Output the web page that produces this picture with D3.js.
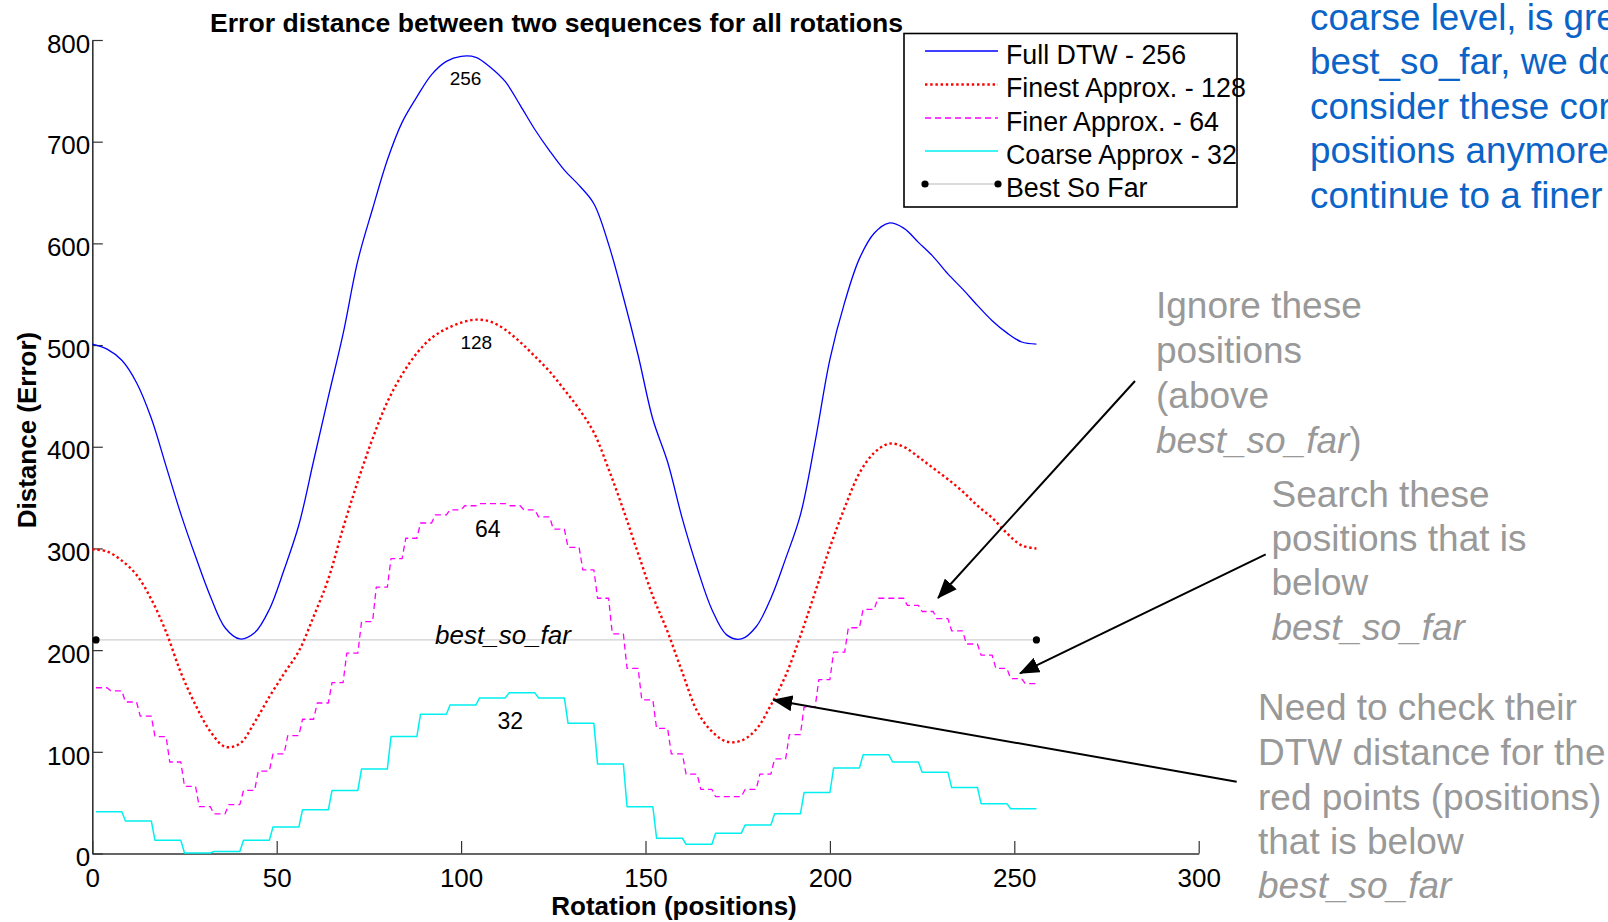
<!DOCTYPE html>
<html>
<head>
<meta charset="utf-8">
<script src="https://cdn.jsdelivr.net/npm/d3@7"></script>
<style>
  html, body { margin: 0; padding: 0; background: #ffffff; overflow: hidden; }
  svg { display: block; font-family: "Liberation Sans", Arial, Helvetica, sans-serif; }
</style>
</head>
<body>
<svg id="chart" width="1608" height="922"></svg>
<script>
// ---- data -------------------------------------------------------------
// rotation positions at which the smooth curves were sampled
const samplePositions = d3.range(0, 257, 4);

// full DTW distance for every 4th rotation
const fullDTW = [501, 496, 485, 463, 428, 381, 334, 292, 253, 222, 211, 217, 240, 279, 323, 386,
                 449, 511, 583, 634, 682, 719, 744, 766, 779, 784, 783, 773, 759, 736, 712, 691,
                 672, 657, 639, 599, 547, 490, 427, 385, 329, 281, 240, 215, 211, 223, 251, 290,
                 333, 405, 486, 542, 585, 610, 620, 615, 601, 587, 570, 555, 539, 524, 512, 503, 501];

// finest approximation (128 segments)
const finestApprox = [299, 297, 288, 274, 250, 218, 178, 146, 120, 105, 108, 129, 154, 177, 199, 233,
                      270, 320, 366, 408, 444, 471, 492, 507, 516, 522, 525, 523, 515, 503, 489, 474,
                      456, 437, 414, 378, 338, 295, 253, 218, 178, 140, 120, 110, 111, 122, 146, 175,
                      214, 257, 301, 340, 374, 394, 403, 400, 390, 379, 368, 356, 342, 330, 315, 303, 300];

// finer approximation: one level per block of 4 rotations (64 blocks)
const finerLevels = [163, 160, 149, 135, 115, 90, 66, 46, 39, 48, 62, 81, 98, 116, 132, 148,
                     168, 197, 228, 262, 290, 310, 325, 333, 338, 342, 344, 344, 342, 338, 331, 319,
                     301, 279, 251, 216, 182, 151, 123, 98, 78, 63, 56, 56, 63, 78, 93, 117,
                     144, 171, 198, 222, 240, 251, 251, 244, 238, 231, 219, 206, 195, 182, 172, 167];

// coarse approximation: one level per block of 8 rotations (32 blocks)
const coarseLevels = [41, 32, 13, 0.5, 2, 13, 26, 43, 62, 83, 115, 137, 146, 153, 158, 153,
                      128, 88, 46, 15, 9, 20, 28, 39, 60, 84, 97, 90, 80, 65, 49, 44];

const rotationCount = 256;
const bestSoFar = 210;
const bestSoFarEnds = [1, 256];

const xTicks = [0, 50, 100, 150, 200, 250, 300];
const yTicks = [0, 100, 200, 300, 400, 500, 600, 700, 800];

const legendLabels = ["Full DTW - 256", "Finest Approx. - 128", "Finer Approx. - 64",
                      "Coarse Approx - 32", "Best So Far"];

const titleText = "Error distance between two sequences for all rotations";
const xLabelText = "Rotation (positions)";
const yLabelText = "Distance (Error)";

// ---- layout -----------------------------------------------------------
const W = 1608, H = 922;
const plot = { left: 92.3, right: 1198.7, top: 40, bottom: 853.5 };
const axisColor = "#333333";

const svg = d3.select("#chart");

const x = d3.scaleLinear().domain([0, 300]).range([plot.left, plot.right]);
const y = d3.scaleLinear().domain([0, 800]).range([plot.bottom, plot.top]);

// ---- axes -------------------------------------------------------------
const yAxis = d3.axisLeft(y).tickValues(yTicks).tickSizeInner(-10.5).tickSizeOuter(0).tickPadding(2);
const xAxis = d3.axisBottom(x).tickValues(xTicks).tickSizeInner(-12.5).tickSizeOuter(0).tickPadding(15);

const gy = svg.append("g").attr("transform", `translate(${plot.left},0)`).call(yAxis);
const gx = svg.append("g").attr("transform", `translate(0,${plot.bottom})`).call(xAxis);

[gx, gy].forEach(g => {
  g.select(".domain").attr("stroke", axisColor).attr("stroke-width", 1.6);
  g.selectAll(".tick line").attr("stroke", axisColor).attr("stroke-width", 1.2);
  g.selectAll(".tick text").attr("fill", "#000").attr("font-size", 26)
    .attr("font-family", "'Liberation Sans', Arial, sans-serif");
});
gy.selectAll(".tick text").attr("dy", "0.47em");
gx.selectAll(".tick text").attr("dy", "0.71em");

// ---- best so far threshold -------------------------------------------
svg.append("line")
  .attr("x1", x(bestSoFarEnds[0])).attr("x2", x(bestSoFarEnds[1]))
  .attr("y1", y(bestSoFar)).attr("y2", y(bestSoFar))
  .attr("stroke", "#cfcfcf").attr("stroke-width", 1.3);
svg.selectAll("circle.bsf").data(bestSoFarEnds).enter().append("circle")
  .attr("class", "bsf")
  .attr("cx", d => x(d)).attr("cy", y(bestSoFar)).attr("r", 3.6).attr("fill", "#000");

// ---- series -----------------------------------------------------------
const smooth = d3.line().x(d => x(d[0])).y(d => y(d[1])).curve(d3.curveCatmullRom.alpha(0.5));
const straight = d3.line().x(d => x(d[0])).y(d => y(d[1]));

const positions = d3.range(1, rotationCount + 1);
const blockSeries = (levels) => {
  const width = rotationCount / levels.length;
  return positions.map(p => [p, levels[Math.floor((p - 1) / width)]]);
};

const series = [
  { pts: samplePositions.map((p, i) => [p, fullDTW[i]]), gen: smooth,
    stroke: "#0000ff", width: 1.3, dash: null },
  { pts: samplePositions.map((p, i) => [p, finestApprox[i]]), gen: smooth,
    stroke: "#ff0000", width: 2.4, dash: "2.4 2.8" },
  { pts: blockSeries(finerLevels), gen: straight,
    stroke: "#ff00ff", width: 1.3, dash: "6 4" },
  { pts: blockSeries(coarseLevels), gen: straight,
    stroke: "#00f0f0", width: 1.5, dash: null }
];

series.forEach(s => {
  svg.append("path")
    .attr("d", s.gen(s.pts))
    .attr("fill", "none")
    .attr("stroke", s.stroke)
    .attr("stroke-width", s.width)
    .attr("stroke-dasharray", s.dash)
    .attr("stroke-linejoin", "round");
});

// ---- curve labels -----------------------------------------------------
const curveLabels = [
  { text: "256", x: 465.5, y: 84.5, size: 19, italic: false },
  { text: "128", x: 476.3, y: 349, size: 19, italic: false },
  { text: "64", x: 487.7, y: 536.5, size: 23, italic: false },
  { text: "32", x: 510.2, y: 728.5, size: 23, italic: false },
  { text: "best_so_far", x: 503, y: 644, size: 26, italic: true }
];
curveLabels.forEach(l => {
  svg.append("text")
    .attr("x", l.x).attr("y", l.y)
    .attr("text-anchor", "middle")
    .attr("font-size", l.size)
    .attr("font-style", l.italic ? "italic" : "normal")
    .attr("fill", "#000")
    .text(l.text);
});

// ---- titles -----------------------------------------------------------
svg.append("text")
  .attr("x", 210).attr("y", 32)
  .attr("font-size", 26.6).attr("font-weight", "bold")
  .text(titleText);

svg.append("text")
  .attr("x", 674).attr("y", 915)
  .attr("text-anchor", "middle")
  .attr("font-size", 26).attr("font-weight", "bold")
  .text(xLabelText);

svg.append("text")
  .attr("transform", "translate(36,430) rotate(-90)")
  .attr("text-anchor", "middle")
  .attr("font-size", 26).attr("font-weight", "bold")
  .text(yLabelText);

// ---- legend -----------------------------------------------------------
const legend = svg.append("g");
legend.append("rect")
  .attr("x", 904).attr("y", 33.5).attr("width", 333).attr("height", 173.5)
  .attr("fill", "#fff").attr("stroke", "#000").attr("stroke-width", 1.6);

const legendStyles = [
  { stroke: "#0000ff", width: 1.3, dash: null },
  { stroke: "#ff0000", width: 2.4, dash: "2.4 2.8" },
  { stroke: "#ff00ff", width: 1.3, dash: "6 4" },
  { stroke: "#00f0f0", width: 1.5, dash: null },
  { stroke: "#cfcfcf", width: 1.3, dash: null, dots: true }
];
const legendRowY = [51, 84.5, 118, 151, 184];
legendLabels.forEach((label, i) => {
  const st = legendStyles[i];
  const ly = legendRowY[i];
  legend.append("line")
    .attr("x1", 925).attr("x2", 998).attr("y1", ly).attr("y2", ly)
    .attr("stroke", st.stroke).attr("stroke-width", st.width)
    .attr("stroke-dasharray", st.dash);
  if (st.dots) {
    [925, 998].forEach(cx => legend.append("circle")
      .attr("cx", cx).attr("cy", ly).attr("r", 3.6).attr("fill", "#000"));
  }
  legend.append("text")
    .attr("x", 1006).attr("y", ly + 12.6)
    .attr("font-size", 26.8).attr("fill", "#000")
    .text(label);
});

// ---- annotations ------------------------------------------------------
const defs = svg.append("defs");
defs.append("marker")
  .attr("id", "arrowhead")
  .attr("viewBox", "0 0 20 16")
  .attr("refX", 19).attr("refY", 8)
  .attr("markerWidth", 20).attr("markerHeight", 16)
  .attr("markerUnits", "userSpaceOnUse")
  .attr("orient", "auto")
  .append("path").attr("d", "M0,0 L20,8 L0,16 Z").attr("fill", "#000");

const arrows = [
  { from: [1135, 381], to: [938, 598] },
  { from: [1265.7, 554.3], to: [1020, 673.3] },
  { from: [1236.7, 781.7], to: [773.3, 700] }
];
arrows.forEach(a => {
  svg.append("line")
    .attr("x1", a.from[0]).attr("y1", a.from[1])
    .attr("x2", a.to[0]).attr("y2", a.to[1])
    .attr("stroke", "#000").attr("stroke-width", 2)
    .attr("marker-end", "url(#arrowhead)");
});

const blueNote = ["coarse level, is greater than", "best_so_far, we do not",
                  "consider these corresponding", "positions anymore and",
                  "continue to a finer level"];
const blueNoteBaselines = [29.5, 74, 118.5, 163, 207.5];
blueNote.forEach((t, i) => {
  svg.append("text")
    .attr("x", 1310).attr("y", blueNoteBaselines[i])
    .attr("font-size", 36.8).attr("fill", "#0a64c8")
    .text(t);
});

const grayNotes = [
  { x: 1156, baselines: [318, 363, 408, 453],
    lines: [[["Ignore these", false]], [["positions", false]], [["(above", false]],
            [["best_so_far", true], [")", false]]] },
  { x: 1271.5, baselines: [507, 551, 595, 640],
    lines: [[["Search these", false]], [["positions that is", false]], [["below", false]],
            [["best_so_far", true]]] },
  { x: 1258, baselines: [720, 765, 810, 853.5, 898],
    lines: [[["Need to check their", false]], [["DTW distance for the", false]],
            [["red points (positions)", false]], [["that is below", false]],
            [["best_so_far", true]]] }
];
grayNotes.forEach(note => {
  note.lines.forEach((parts, i) => {
    const t = svg.append("text")
      .attr("x", note.x).attr("y", note.baselines[i])
      .attr("font-size", 37).attr("fill", "#999999");
    parts.forEach(([txt, it]) => {
      t.append("tspan").attr("font-style", it ? "italic" : "normal").text(txt);
    });
  });
});
</script>
</body>
</html>
